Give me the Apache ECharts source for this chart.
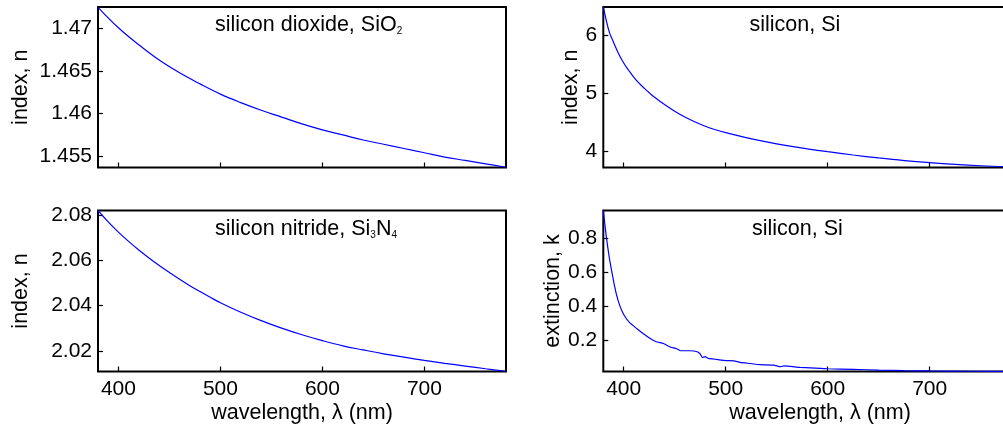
<!DOCTYPE html>
<html>
<head>
<meta charset="utf-8">
<script src="https://cdn.jsdelivr.net/npm/echarts@6/dist/echarts.min.js"></script>
<style>
html,body{margin:0;padding:0;background:#fff;overflow:hidden;width:1003px;height:432px;}
#chart{width:1040px;height:432px;}
</style>
</head>
<body>
<div id="chart"></div>
<script>
// ---- data ----
const sio2Wl = [380,400,420,440,460,480,500,520,540,560,580,600,620,640,660,680,700,720,740,760,780];
const sio2N  = [1.4725,1.4701,1.4681,1.4663,1.4648,1.4635,1.4623,1.4613,1.4604,1.4596,1.4588,1.4581,1.4575,1.4569,1.4564,1.4559,1.4554,1.4549,1.4545,1.4541,1.4537];

const si3n4Wl = [380,390,400,410,420,430,440,450,460,470,480,490,500,520,540,560,580,600,620,640,660,680,700,720,740,760,780];
const si3n4N  = [2.0819,2.0769,2.0724,2.0683,2.0645,2.0610,2.0577,2.0546,2.0516,2.0488,2.0462,2.0437,2.0413,2.0371,2.0334,2.0301,2.0272,2.0246,2.0223,2.0205,2.0188,2.0173,2.0159,2.0146,2.0134,2.0122,2.0111];

const siNWl = [380,383,386,390,395,400,405,410,415,420,426,430,440,450,460,470,480,490,500,520,540,560,580,600,625,650,675,700,725,750,775,805];
const siN   = [6.49,6.25,6.05,5.88,5.68,5.52,5.39,5.27,5.17,5.085,4.99,4.93,4.80,4.685,4.585,4.50,4.425,4.365,4.315,4.23,4.155,4.09,4.035,3.985,3.928,3.877,3.832,3.795,3.765,3.742,3.726,3.712];

const siKWl = [380,383,386,390,393,396,400,406,413,419,426,432,439,445,452,456,465,472,475,477,480,483,491,501,508,514,524,534,547,554,557,573,593,600,625,650,675,700,740,780,805];
const siK   = [0.963,0.806,0.680,0.550,0.465,0.405,0.350,0.300,0.266,0.238,0.208,0.189,0.179,0.160,0.148,0.136,0.136,0.130,0.117,0.097,0.101,0.091,0.085,0.078,0.077,0.068,0.061,0.054,0.051,0.042,0.047,0.038,0.032,0.030,0.026,0.022,0.019,0.017,0.0152,0.0143,0.0138];

// tick labels
const xTicks = [400,500,600,700];
const yTicksSiO2 = [1.455,1.46,1.465,1.47];
const yTicksSi3N4 = [2.02,2.04,2.06,2.08];
const yTicksSiN = [4,5,6];
const yTicksSiK = [0.2,0.4,0.6,0.8];

// texts
const titles = ['silicon dioxide, SiO{s|2}','silicon nitride, Si{s|3}N{s|4}','silicon, Si','silicon, Si'];
const yNames = ['index, n','index, n','index, n','extinction, k'];
const xName = 'wavelength, λ (nm)';

// ---- chart ----
const FONT = 'Liberation Sans, Arial, Helvetica, sans-serif';
const chart = echarts.init(document.getElementById('chart'), null, {renderer:'canvas'});

const grids = [
  {left:98, top:7, width:408, height:160.5},
  {left:98, top:210.5, width:408, height:161},
  {left:603.3, top:7, width:433.5, height:160.5},
  {left:603.3, top:210.5, width:433.5, height:161}
];
const xRanges = [[380,780],[380,780],[380,805],[380,805]];
const yRanges = [[1.45367,1.47254],[2.0110,2.0819],[3.712,6.488],[0.0138,0.963]];
const yTicks = [yTicksSiO2, yTicksSi3N4, yTicksSiN, yTicksSiK];
const yGaps = [66, 66, 18, 37];
const seriesData = [[sio2Wl,sio2N],[si3n4Wl,si3n4N],[siNWl,siN],[siKWl,siK]];

const option = {
  animation:false,
  backgroundColor:'#fff',
  grid: grids.map(g => Object.assign({show:true, borderColor:'#000', borderWidth:2, backgroundColor:'transparent', containLabel:false}, g)),
  xAxis: grids.map((g,i) => {
    const bottomRow = (i === 1 || i === 3);
    return {
      type:'value', gridIndex:i, min:xRanges[i][0], max:xRanges[i][1],
      axisLine:{show:false},
      splitLine:{show:false},
      axisTick:{show:true, inside:true, length:5, customValues:xTicks, lineStyle:{color:'#000', width:1.2}},
      axisLabel:{show:bottomRow, customValues:xTicks, margin:7, color:'#000', fontSize:21, fontFamily:FONT},
      name: bottomRow ? xName : '',
      nameLocation:'middle', nameGap:31,
      nameTextStyle:{color:'#000', fontSize:21.5, fontFamily:FONT}
    };
  }),
  yAxis: grids.map((g,i) => ({
    type:'value', gridIndex:i, min:yRanges[i][0], max:yRanges[i][1],
    axisLine:{show:false},
    splitLine:{show:false},
    axisTick:{show:true, inside:true, length:5, customValues:yTicks[i], lineStyle:{color:'#000', width:1.2}},
    axisLabel:{show:true, customValues:yTicks[i], margin:6, color:'#000', fontSize:21, fontFamily:FONT},
    name: yNames[i], nameLocation:'middle', nameGap:yGaps[i],
    nameTextStyle:{color:'#000', fontSize:21.5, fontFamily:FONT}
  })),
  series: seriesData.map((d,i) => ({
    type:'line', xAxisIndex:i, yAxisIndex:i,
    data: d[0].map((w,j) => [w, d[1][j]]),
    showSymbol:false, symbol:'none',
    smooth: i < 3 ? 0.4 : 0.15,
    lineStyle:{color:'#0000ff', width:1.2},
    clip:true
  })),
  graphic: [
    [215, 25], [215, 229.5], [749.5, 25], [752, 229.5]
  ].map((p,i) => ({
    type:'text', x:p[0], y:p[1], z:100,
    style:{
      text: titles[i],
      fill:'#000', fontSize:21.5, fontFamily:FONT,
      textAlign:'left', textVerticalAlign:'middle', verticalAlign:'middle',
      rich:{ s:{fontSize:10, fontFamily:FONT, fill:'#000', verticalAlign:'bottom'} }
    }
  }))
};
chart.setOption(option);
</script>
</body>
</html>
